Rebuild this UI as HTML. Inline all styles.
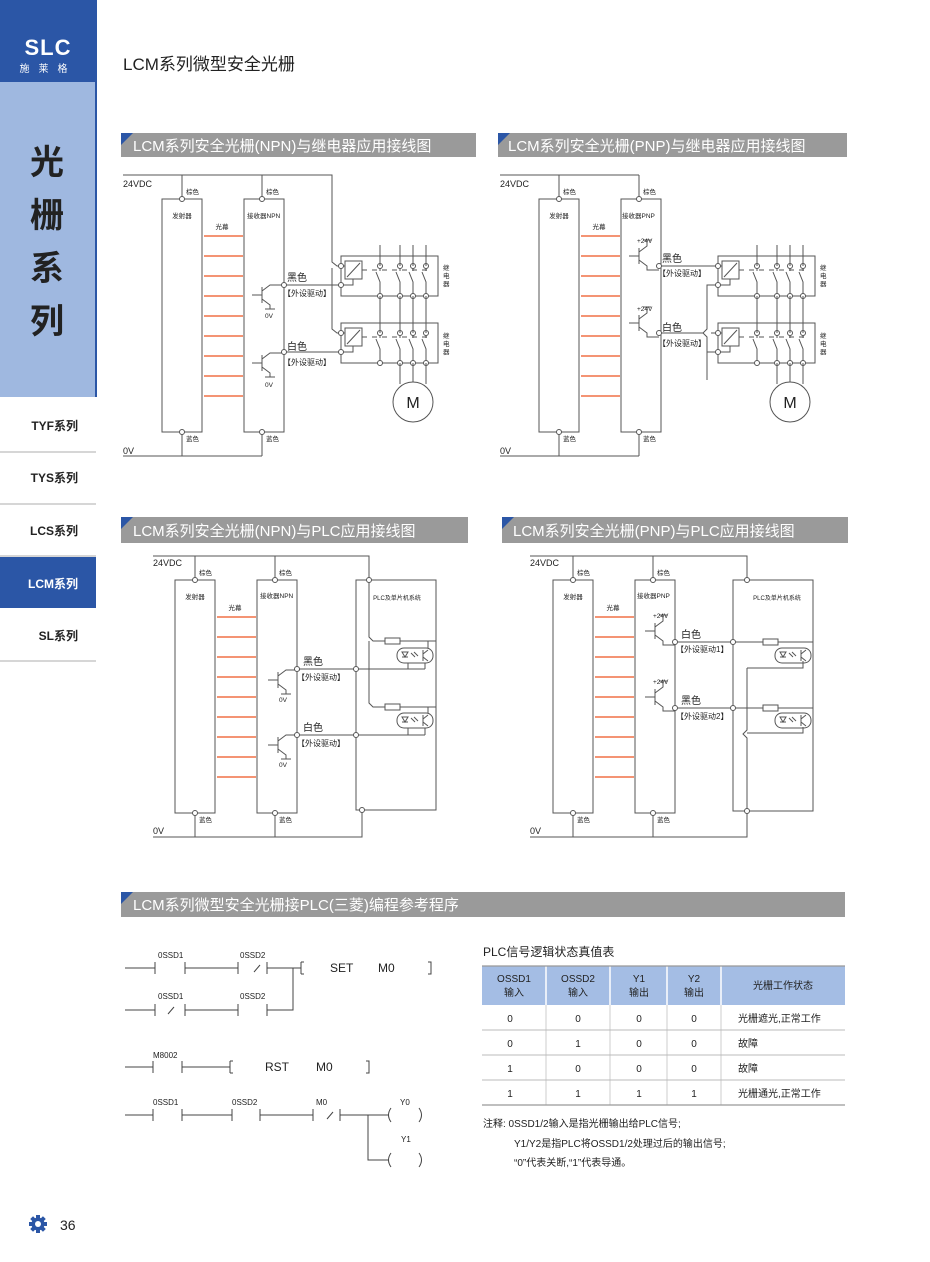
<!DOCTYPE html>
<html><head><meta charset="utf-8"><style>
html,body{margin:0;padding:0;background:#fff}
svg{display:block}
text{font-family:"Liberation Sans","Noto Sans CJK SC",sans-serif;fill:#222}
.w{stroke:#555;stroke-width:1;fill:none}
.b{stroke:#ee5522;stroke-width:1.3}
.c{fill:#fff;stroke:#555;stroke-width:1}
.s{font-size:6.5px}
.m{font-size:10px}
.k{font-size:8px}
.h{font-size:15px;fill:#fff}
</style></head><body>
<svg width="930" height="1262" viewBox="0 0 930 1262" xmlns="http://www.w3.org/2000/svg">
<defs>
<g id="curt">
 <path class="w" d="M182 175V199M262 175V199M182 432V456M262 432V456"/>
 <rect class="w" x="162" y="199" width="40" height="233"/>
 <rect class="w" x="244" y="199" width="40" height="233"/>
 <circle class="c" cx="182" cy="199" r="2.5"/><circle class="c" cx="262" cy="199" r="2.5"/>
 <circle class="c" cx="182" cy="432" r="2.5"/><circle class="c" cx="262" cy="432" r="2.5"/>
 <text class="s" x="186" y="194">棕色</text><text class="s" x="266" y="194">棕色</text>
 <text class="s" x="186" y="441">蓝色</text><text class="s" x="266" y="441">蓝色</text>
 <text class="s" x="182" y="218" text-anchor="middle">发射器</text>
 <text class="s" x="222" y="229" text-anchor="middle">光幕</text>
 <g class="b"><path d="M204 236H243M204 256H243M204 276H243M204 296H243M204 316H243M204 336H243M204 356H243M204 376H243M204 396H243"/></g>
</g>
<g id="npn" class="w">
 <path d="M0 -8V8M-10 0H0M0 -4L8 -10H22M0 4L8 10V14M3 14H13"/>
</g>
<g id="pnp" class="w">
 <path d="M0 -8V8M-10 0H0M0 -4L8 -10V-16M4 -16H12M0 4L8 10V14H20"/>
</g>
<g id="rel">
 <rect class="w" x="0" y="0" width="97" height="40"/>
 <path class="w" d="M0 10H4M0 29H12V23"/>
 <rect class="w" x="4" y="5" width="17" height="18"/>
 <path class="w" d="M6 21L19 7"/>
 <path class="w" d="M21 14H90" stroke-dasharray="5 5"/>
 <path class="w" d="M39 10V15M39 40V26L35 16M59 10V15M59 40V26L55 16M72 10V15M72 40V26L68 16M85 10V15M85 40V26L81 16"/>
 <circle class="c" cx="0" cy="10" r="2.5"/><circle class="c" cx="0" cy="29" r="2.5"/>
 <circle class="c" cx="39" cy="10" r="2.5"/><circle class="c" cx="59" cy="10" r="2.5"/><circle class="c" cx="72" cy="10" r="2.5"/><circle class="c" cx="85" cy="10" r="2.5"/>
 <circle class="c" cx="39" cy="40" r="2.5"/><circle class="c" cx="59" cy="40" r="2.5"/><circle class="c" cx="72" cy="40" r="2.5"/><circle class="c" cx="85" cy="40" r="2.5"/>
</g>
<g id="opto">
 <rect class="w" x="0" y="0" width="36" height="15" rx="7"/>
 <path class="w" d="M5 4L11 4L8 9ZM5 9H11M14 5L18 9M17 4L21 8M26 2V13M26 6L31 2M26 9L31 13"/>
</g>
</defs>

<!-- sidebar -->
<rect x="0" y="0" width="96" height="82" fill="#2b56a6"/>
<rect x="0" y="82" width="96" height="315" fill="#9fb8e0"/>
<rect x="95" y="0" width="2" height="397" fill="#2b56a6"/>
<text x="48" y="55" text-anchor="middle" style="font-size:22px;font-weight:bold;fill:#fff;letter-spacing:1px">SLC</text>
<text x="48" y="72" text-anchor="middle" style="font-size:10px;fill:#fff;letter-spacing:9px">施莱格</text>
<g style="font-size:34px;font-weight:bold" text-anchor="middle">
<text x="47" y="174">光</text><text x="47" y="227">栅</text><text x="47" y="280">系</text><text x="47" y="333">列</text>
</g>
<g style="font-size:12px;font-weight:bold" text-anchor="end">
<text x="78" y="430">TYF系列</text><text x="78" y="482">TYS系列</text><text x="78" y="535">LCS系列</text>
<rect x="0" y="557" width="96" height="51" fill="#2b56a6"/>
<text x="78" y="588" style="fill:#fff">LCM系列</text>
<text x="78" y="640">SL系列</text>
</g>
<path d="M0 452H96M0 504H96M0 556H96M0 661H96" stroke="#c8c8c8" stroke-width="1.5"/>

<text x="123" y="70" style="font-size:17px">LCM系列微型安全光栅</text>

<!-- section headers -->
<g>
<rect x="121" y="133" width="355" height="24" fill="#9a9a9a"/><path d="M121 133h12l-12 12z" fill="#2b56a6"/>
<text class="h" x="133" y="151">LCM系列安全光栅(NPN)与继电器应用接线图</text>
<rect x="498" y="133" width="349" height="24" fill="#9a9a9a"/><path d="M498 133h12l-12 12z" fill="#2b56a6"/>
<text class="h" x="508" y="151">LCM系列安全光栅(PNP)与继电器应用接线图</text>
<rect x="121" y="517" width="347" height="26" fill="#9a9a9a"/><path d="M121 517h12l-12 12z" fill="#2b56a6"/>
<text class="h" x="133" y="536">LCM系列安全光栅(NPN)与PLC应用接线图</text>
<rect x="502" y="517" width="346" height="26" fill="#9a9a9a"/><path d="M502 517h12l-12 12z" fill="#2b56a6"/>
<text class="h" x="513" y="536">LCM系列安全光栅(PNP)与PLC应用接线图</text>
<rect x="121" y="892" width="724" height="25" fill="#9a9a9a"/><path d="M121 892h12l-12 12z" fill="#2b56a6"/>
<text class="h" x="133" y="910">LCM系列微型安全光栅接PLC(三菱)编程参考程序</text>
</g>

<!-- Diagram 1 -->
<use href="#curt"/>
<text x="123" y="187" style="font-size:9px">24VDC</text>
<text x="123" y="454" style="font-size:9px">0V</text>
<text class="s" x="247" y="218">接收器NPN</text>
<path class="w" d="M123 175H332V262L337 266H341M332 268V329L337 333H341M123 456H262"/>
<use href="#npn" x="262" y="295"/><use href="#npn" x="262" y="363"/>
<text class="s" x="265" y="318">0V</text><text class="s" x="265" y="387">0V</text>
<path class="w" d="M284 285H341M284 352H341"/>
<circle class="c" cx="284" cy="285" r="2.5"/><circle class="c" cx="284" cy="352" r="2.5"/>
<text class="m" x="287" y="281">黑色</text><text class="k" x="283" y="296">【外设驱动】</text>
<text class="m" x="287" y="350">白色</text><text class="k" x="283" y="365">【外设驱动】</text>
<use href="#rel" x="341" y="256"/><use href="#rel" x="341" y="323"/>
<path class="w" d="M380 245V266M400 245V266M413 245V266M426 245V266M380 296V333M400 296V333M413 296V333M426 296V333M400 363V384M413 363V382M426 363V384"/>
<circle class="w" cx="413" cy="402" r="20"/><text x="413" y="408" text-anchor="middle" style="font-size:16px">M</text>
<g class="s"><text x="443" y="270">继</text><text x="443" y="278">电</text><text x="443" y="286">器</text>
<text x="443" y="338">继</text><text x="443" y="346">电</text><text x="443" y="354">器</text></g>

<!-- Diagram 2 -->
<use href="#curt" x="377"/>
<text x="500" y="187" style="font-size:9px">24VDC</text>
<text x="500" y="454" style="font-size:9px">0V</text>
<text class="s" x="622" y="218">接收器PNP</text>
<path class="w" d="M500 175H639M500 456H639"/>
<use href="#pnp" x="639" y="256"/><use href="#pnp" x="639" y="323"/>
<text class="s" x="637" y="243">+24V</text><text class="s" x="637" y="311">+24V</text>
<path class="w" d="M659 266H718M659 333H703M711 333H718M718 285H707V329L703 333L707 337V352H718M707 352V380"/>
<circle class="c" cx="659" cy="266" r="2.5"/><circle class="c" cx="659" cy="333" r="2.5"/>
<text class="m" x="662" y="262">黑色</text><text class="k" x="658" y="276">【外设驱动】</text>
<text class="m" x="662" y="331">白色</text><text class="k" x="658" y="346">【外设驱动】</text>
<use href="#rel" x="718" y="256"/><use href="#rel" x="718" y="323"/>
<path class="w" d="M757 245V266M777 245V266M790 245V266M803 245V266M757 296V333M777 296V333M790 296V333M803 296V333M777 363V384M790 363V382M803 363V384"/>
<circle class="w" cx="790" cy="402" r="20"/><text x="790" y="408" text-anchor="middle" style="font-size:16px">M</text>
<g class="s"><text x="820" y="270">继</text><text x="820" y="278">电</text><text x="820" y="286">器</text>
<text x="820" y="338">继</text><text x="820" y="346">电</text><text x="820" y="354">器</text></g>

<!-- Diagram 3 -->
<use href="#curt" x="13" y="381"/>
<text x="153" y="566" style="font-size:9px">24VDC</text>
<text x="153" y="834" style="font-size:9px">0V</text>
<text class="s" x="260" y="598">接收器NPN</text>
<path class="w" d="M153 556H369V580M153 837H362V810"/>
<rect class="w" x="356" y="580" width="80" height="230"/>
<text x="397" y="600" text-anchor="middle" style="font-size:6px">PLC及单片机系统</text>
<path class="w" d="M369 580V637L373 641H385M400 641H436M369 641V703L373 707H385M400 707H436"/>
<rect class="w" x="385" y="638" width="15" height="6"/><rect class="w" x="385" y="704" width="15" height="6"/>
<use href="#opto" x="397" y="648"/><use href="#opto" x="397" y="713"/>
<path class="w" d="M408 663V669M425 663V669M408 728V735M425 728V735M428 641V648M428 707V713"/>
<use href="#npn" x="278" y="680"/><use href="#npn" x="278" y="745"/>
<path class="w" d="M297 669H425M297 735H425"/>
<circle class="c" cx="297" cy="669" r="2.5"/><circle class="c" cx="297" cy="735" r="2.5"/>
<circle class="c" cx="356" cy="669" r="2.5"/><circle class="c" cx="356" cy="735" r="2.5"/>
<circle class="c" cx="369" cy="580" r="2.5"/><circle class="c" cx="362" cy="810" r="2.5"/>
<text class="s" x="279" y="702">0V</text><text class="s" x="279" y="767">0V</text>
<text class="m" x="303" y="665">黑色</text><text class="k" x="297" y="680">【外设驱动】</text>
<text class="m" x="303" y="731">白色</text><text class="k" x="297" y="746">【外设驱动】</text>

<!-- Diagram 4 -->
<use href="#curt" x="391" y="381"/>
<text x="530" y="566" style="font-size:9px">24VDC</text>
<text x="530" y="834" style="font-size:9px">0V</text>
<text class="s" x="637" y="598">接收器PNP</text>
<path class="w" d="M530 556H747V580M530 837H747V811"/>
<rect class="w" x="733" y="580" width="80" height="231"/>
<text x="777" y="600" text-anchor="middle" style="font-size:6px">PLC及单片机系统</text>
<path class="w" d="M675 642H763M778 642H813M675 708H763M778 708H813M747 668H803V661M747 668V730L743 734L747 738V811M747 733H803V727"/>
<rect class="w" x="763" y="639" width="15" height="6"/><rect class="w" x="763" y="705" width="15" height="6"/>
<use href="#opto" x="775" y="648"/><use href="#opto" x="775" y="713"/>
<use href="#pnp" x="655" y="631"/><use href="#pnp" x="655" y="697"/>
<text class="s" x="653" y="618">+24V</text><text class="s" x="653" y="684">+24V</text>
<circle class="c" cx="675" cy="642" r="2.5"/><circle class="c" cx="675" cy="708" r="2.5"/>
<circle class="c" cx="733" cy="642" r="2.5"/><circle class="c" cx="733" cy="708" r="2.5"/>
<circle class="c" cx="747" cy="580" r="2.5"/><circle class="c" cx="747" cy="811" r="2.5"/>
<text class="m" x="681" y="638">白色</text><text class="k" x="676" y="652">【外设驱动1】</text>
<text class="m" x="681" y="704">黑色</text><text class="k" x="676" y="719">【外设驱动2】</text>

<!-- Ladder -->
<g class="w" style="stroke:#444">
<path d="M125 968H155M155 962V974M185 962V974M185 968H238M238 962V974M267 962V974M267 968H293M293 968H301M301 962V974M301 962H304M301 974H304M260 965L254 972"/>
<path d="M125 1010H155M155 1004V1016M185 1004V1016M185 1010H238M238 1004V1016M267 1004V1016M267 1010H293V968M174 1007L168 1014"/>
<path d="M428 962H431V974H428"/>
<path d="M125 1067H153M153 1061V1073M182 1061V1073M182 1067H230M230 1061V1073M230 1061H233M230 1073H233M366 1061H369V1073H366"/>
<path d="M125 1115H153M153 1109V1121M182 1109V1121M182 1115H232M232 1109V1121M260 1109V1121M260 1115H313M313 1109V1121M340 1109V1121M340 1115H388M333 1112L327 1119M368 1115V1160H388"/>
<path d="M391 1108Q386 1115 391 1122M419 1108Q424 1115 419 1122M391 1153Q386 1160 391 1167M419 1153Q424 1160 419 1167"/>
</g>
<g style="font-size:8px">
<text x="158" y="958">0SSD1</text><text x="240" y="958">0SSD2</text>
<text x="158" y="999">0SSD1</text><text x="240" y="999">0SSD2</text>
<text x="153" y="1058">M8002</text>
<text x="153" y="1105">0SSD1</text><text x="232" y="1105">0SSD2</text><text x="316" y="1105">M0</text>
<text x="400" y="1105">Y0</text><text x="401" y="1142">Y1</text>
</g>
<g style="font-size:12px">
<text x="330" y="972">SET</text><text x="378" y="972">M0</text>
<text x="265" y="1071">RST</text><text x="316" y="1071">M0</text>
</g>

<!-- Truth table -->
<text x="483" y="956" style="font-size:12px">PLC信号逻辑状态真值表</text>
<rect x="482" y="966" width="363" height="39" fill="#a4bde4"/>
<path d="M546 966V1005M610 966V1005M667 966V1005M721 966V1005" stroke="#fff" stroke-width="1.5"/>
<path d="M546 1005V1105M610 1005V1105M667 1005V1105M721 1005V1105" stroke="#ccc" stroke-width="1"/>
<path d="M482 1030H845M482 1055H845M482 1080H845" stroke="#bbb" stroke-width="1"/>
<path d="M482 1105H845M482 966H845" stroke="#999" stroke-width="1.2"/>
<g style="font-size:10px;fill:#333" text-anchor="middle">
<text x="514" y="982">OSSD1</text><text x="514" y="996">输入</text>
<text x="578" y="982">OSSD2</text><text x="578" y="996">输入</text>
<text x="639" y="982">Y1</text><text x="639" y="996">输出</text>
<text x="694" y="982">Y2</text><text x="694" y="996">输出</text>
<text x="783" y="989">光栅工作状态</text>
<text x="510" y="1022">0</text><text x="578" y="1022">0</text><text x="639" y="1022">0</text><text x="694" y="1022">0</text>
<text x="510" y="1047">0</text><text x="578" y="1047">1</text><text x="639" y="1047">0</text><text x="694" y="1047">0</text>
<text x="510" y="1072">1</text><text x="578" y="1072">0</text><text x="639" y="1072">0</text><text x="694" y="1072">0</text>
<text x="510" y="1097">1</text><text x="578" y="1097">1</text><text x="639" y="1097">1</text><text x="694" y="1097">1</text>
</g>
<g style="font-size:10px;fill:#333">
<text x="738" y="1022">光栅遮光,正常工作</text>
<text x="738" y="1047">故障</text>
<text x="738" y="1072">故障</text>
<text x="738" y="1097">光栅通光,正常工作</text>
<text x="483" y="1127">注释:  0SSD1/2输入是指光栅输出给PLC信号;</text>
<text x="514" y="1147">Y1/Y2是指PLC将OSSD1/2处理过后的输出信号;</text>
<text x="514" y="1166">“0”代表关断,“1”代表导通。</text>
</g>

<!-- footer -->
<g transform="translate(38,1224)" fill="#2b56a6">
<circle r="6.5"/>
<g><rect x="-2" y="-9" width="4" height="18"/><rect x="-9" y="-2" width="18" height="4"/>
<rect x="-2" y="-9" width="4" height="18" transform="rotate(45)"/><rect x="-2" y="-9" width="4" height="18" transform="rotate(-45)"/></g>
<circle r="3" fill="#fff"/>
</g>
<text x="60" y="1230" style="font-size:14px">36</text>
</svg>
</body></html>
